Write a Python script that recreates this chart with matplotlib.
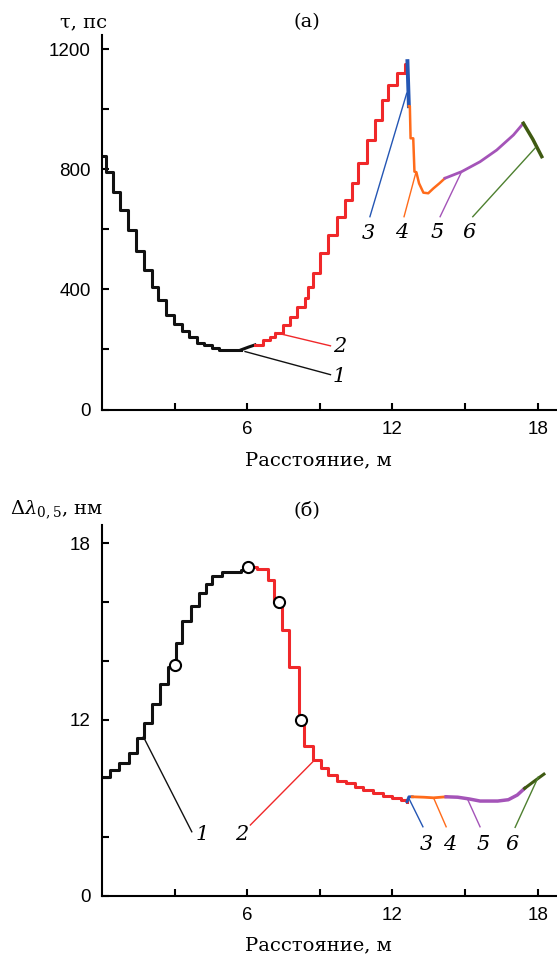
import numpy as np
import matplotlib
matplotlib.use("Agg")
import matplotlib.pyplot as plt

# ---------------- (a) tau, ps ----------------
# curve 1 (black staircase, steps-post)
a1_x = [0.0, 0.18, 0.44, 0.76, 1.08, 1.40, 1.72, 2.06, 2.31, 2.65, 2.97, 3.29, 3.60, 3.93, 4.22, 4.56, 4.85, 5.76]
a1_y = [845, 790, 725, 665, 598, 528, 464, 407, 365, 315, 285, 262, 241, 223, 214, 204, 199, 199]
a1_tail_x = [5.76, 6.06, 6.32]
a1_tail_y = [199, 208, 215]
# curve 2 (red staircase)
a2_x = [6.32, 6.67, 6.95, 7.15, 7.49, 7.77, 8.04, 8.39, 8.53, 8.73, 9.01, 9.35, 9.70, 10.04, 10.32, 10.59, 10.94, 11.28, 11.56, 11.83, 12.18, 12.52, 12.62]
a2_y = [215, 231, 242, 254, 281, 309, 342, 370, 409, 453, 520, 581, 642, 697, 753, 820, 897, 964, 1030, 1080, 1119, 1152, 1160]
a3_x = [12.62, 12.68]
a3_y = [1160, 1010]
a4_x = [12.68, 12.72, 12.75, 12.86, 12.91, 12.99, 13.10, 13.28, 13.48, 13.69, 13.94, 14.17]
a4_y = [1010, 1010, 903, 903, 792, 790, 753, 722, 720, 736, 753, 770]
a5_x = [14.17, 14.86, 15.62, 16.31, 17.00, 17.41]
a5_y = [770, 792, 825, 864, 914, 953]
a6_x = [17.41, 17.80, 18.17]
a6_y = [953, 900, 842]
# leader lines: start on curve, end near the number
a_lead = {"1": ([5.91, 9.44], [193, 116], (9.81, 110)),
          "2": ([7.16, 9.44], [256, 212], (9.81, 210)),
          "3": ([12.59, 11.07], [1053, 642], (11.0, 587)),
          "4": ([12.98, 12.48], [792, 642], (12.38, 589)),
          "5": ([14.86, 13.97], [792, 642], (13.83, 589)),
          "6": ([17.89, 15.32], [870, 642], (15.18, 589))}

# ---------------- (б) delta lambda, nm ----------------
b1_x = [0.0, 0.33, 0.72, 1.12, 1.46, 1.74, 2.08, 2.40, 2.71, 3.04, 3.32, 3.66, 4.01, 4.29, 4.56, 4.96, 5.76, 6.03]
b1_y = [8.11, 8.57, 9.06, 9.70, 10.72, 11.78, 12.52, 13.20, 13.80, 14.60, 15.35, 15.86, 16.30, 16.61, 16.88, 17.03, 17.10, 17.19]
b2_x = [6.03, 6.40, 6.87, 7.11, 7.42, 7.74, 8.15, 8.33, 8.72, 9.05, 9.35, 9.70, 10.10, 10.45, 10.80, 11.20, 11.60, 12.00, 12.35, 12.60]
b2_y = [17.19, 17.12, 16.76, 16.00, 15.04, 13.80, 12.00, 10.20, 9.22, 8.68, 8.20, 7.84, 7.66, 7.42, 7.21, 7.00, 6.80, 6.64, 6.50, 6.41]
b3_x = [12.60, 12.68, 12.82]
b3_y = [6.41, 6.75, 6.75]
b4_x = [12.82, 13.30, 13.70, 14.22]
b4_y = [6.75, 6.72, 6.68, 6.75]
b5_x = [14.22, 14.70, 15.18, 15.62, 16.35, 16.79, 17.16, 17.46]
b5_y = [6.75, 6.72, 6.60, 6.46, 6.46, 6.55, 6.87, 7.32]
b6_x = [17.46, 17.85, 18.26]
b6_y = [7.32, 7.80, 8.29]
circ_x = [3.02, 6.03, 7.30, 8.22]
circ_y = [13.85, 17.19, 16.00, 12.00]
b_lead = {"1": ([1.71, 3.71], [10.83, 4.37], (4.15, 4.15)),
          "2": ([8.71, 6.13], [9.13, 4.83], (5.76, 4.15)),
          "3": ([12.68, 13.26], [6.64, 4.71], (13.41, 3.47)),
          "4": ([13.71, 14.22], [6.64, 4.71], (14.37, 3.47)),
          "5": ([15.10, 15.62], [6.60, 4.71], (15.76, 3.47)),
          "6": ([18.03, 17.07], [8.11, 4.67], (16.94, 3.47))}

cols = {"1": "#111111", "2": "#f0282a", "3": "#2456b4", "4": "#ff6b1a", "5": "#a454b8", "6": "#3f5a12"}
lead_cols = dict(cols)
lead_cols["6"] = "#4e8030"

plt.rcParams["mathtext.fontset"] = "dejavuserif"
W, H = 557, 957
fig = plt.figure(figsize=(W / 100, H / 100), dpi=100)

def px_box(left, top, right, bottom):
    return [left / W, 1 - bottom / H, (right - left) / W, (bottom - top) / H]

tickfont = "Liberation Sans"
serif = "DejaVu Serif"

def style_axes(ax):
    for s in ["top", "right"]:
        ax.spines[s].set_visible(False)
    for s in ["left", "bottom"]:
        ax.spines[s].set_linewidth(1.5)
    ax.tick_params(which="both", direction="in", length=5, width=1.5, labelsize=13.5, pad=8)
    for lab in ax.get_xticklabels() + ax.get_yticklabels():
        lab.set_family(tickfont)

# ---- top panel
ax1 = fig.add_axes(px_box(102, 35, 557, 409.5))
ax1.plot(a1_x, a1_y, drawstyle="steps-post", color=cols["1"], lw=2.2)
ax1.plot(a1_tail_x, a1_tail_y, color=cols["1"], lw=2.2)
ax1.plot(a2_x, a2_y, drawstyle="steps-post", color=cols["2"], lw=2.2)
ax1.plot(a3_x, a3_y, color=cols["3"], lw=2.8)
ax1.plot(a4_x, a4_y, color=cols["4"], lw=1.8)
ax1.plot(a5_x, a5_y, color=cols["5"], lw=2.0)
ax1.plot(a6_x, a6_y, color=cols["6"], lw=2.5)
for k, (lx, ly, pos) in a_lead.items():
    ax1.plot(lx, ly, color=lead_cols[k], lw=1.0)
    ax1.text(pos[0], pos[1], k, fontsize=15, style="italic", family=serif, ha="center", va="center")
ax1.set_xlim(0, 18.8)
ax1.set_ylim(0, 1247)
ax1.set_xticks([3, 6, 9, 12, 15, 18])
ax1.set_xticklabels(["", "6", "", "12", "", "18"])
ax1.set_yticks([0, 200, 400, 600, 800, 1000, 1200])
ax1.set_yticklabels(["0", "", "400", "", "800", "", "1200"])
style_axes(ax1)

# ---- bottom panel (axis is compressed below 12)
def fwd(v):
    v = np.asarray(v, dtype=float)
    return np.where(v <= 12, v / 4.0, 3 + (v - 12) / 2.0)

def inv(p):
    p = np.asarray(p, dtype=float)
    return np.where(p <= 3, 4.0 * p, 12 + 2.0 * (p - 3))

ax2 = fig.add_axes(px_box(102, 525, 557, 896))
ax2.set_yscale("function", functions=(fwd, inv))
ax2.plot(b1_x, b1_y, drawstyle="steps-post", color=cols["1"], lw=2.2)
ax2.plot(b2_x, b2_y, drawstyle="steps-post", color=cols["2"], lw=2.2)
ax2.plot(b3_x, b3_y, color=cols["3"], lw=2.0)
ax2.plot(b4_x, b4_y, color=cols["4"], lw=2.0)
ax2.plot(b5_x, b5_y, color=cols["5"], lw=2.5)
ax2.plot(b6_x, b6_y, color=cols["6"], lw=2.2)
ax2.plot(circ_x, circ_y, "o", ms=8, mfc="white", mec="black", mew=1.5, zorder=5)
for k, (lx, ly, pos) in b_lead.items():
    ax2.plot(lx, ly, color=lead_cols[k], lw=1.0)
    ax2.text(pos[0], pos[1], k, fontsize=15, style="italic", family=serif, ha="center", va="center")
ax2.set_xlim(0, 18.8)
ax2.set_ylim(0, 18.62)
ax2.set_xticks([3, 6, 9, 12, 15, 18])
ax2.set_xticklabels(["", "6", "", "12", "", "18"])
ax2.set_yticks([0, 4, 8, 12, 14, 16, 18])
ax2.set_yticklabels(["0", "", "", "12", "", "", "18"])
ax2.yaxis.set_minor_locator(matplotlib.ticker.NullLocator())
style_axes(ax2)

# ---- texts
def ftext(x, y, s, **kw):
    fig.text(x / W, 1 - y / H, s, family=serif, **kw)

ftext(84, 22, "τ, пс", fontsize=14, ha="center", va="center")
ftext(307, 22, "(a)", fontsize=14, ha="center", va="center")
ftext(318, 460, "Расстояние, м", fontsize=14, ha="center", va="center")
ftext(10, 510, r"$\Delta\lambda_{0,5}$, нм", fontsize=14, ha="left", va="center")
ftext(307, 510, "(б)", fontsize=14, ha="center", va="center")
ftext(318, 945, "Расстояние, м", fontsize=14, ha="center", va="center")

fig.savefig("out.png", dpi=100)
